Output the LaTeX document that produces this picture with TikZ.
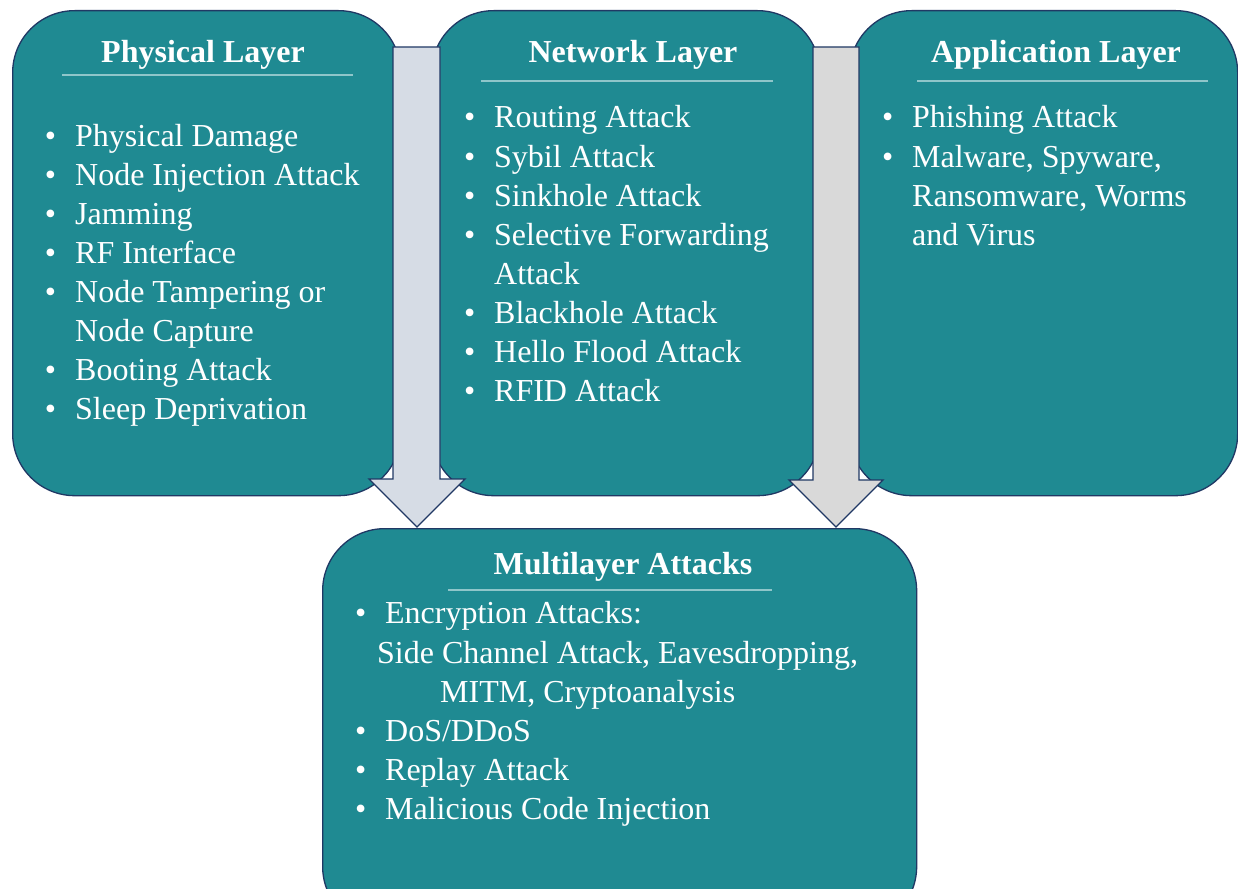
\documentclass[tikz,border=0pt]{standalone}
\usepackage{fontspec}
\setmainfont{Liberation Serif}
\definecolor{tealbox}{HTML}{1F8A92}
\definecolor{edge}{HTML}{203864}
\definecolor{rulecol}{HTML}{8FC6CA}
\definecolor{arrowA}{HTML}{D6DCE5}
\definecolor{arrowB}{HTML}{D9D9D9}
\newcommand{\bul}{\llap{\textbullet\hspace{19pt}}}
\begin{document}
\begin{tikzpicture}[x=1pt,y=-1pt]
\tikzset{
  layerbox/.style={draw=edge, line width=1.3pt, fill=tealbox, rounded corners=62pt, inner sep=0pt, anchor=north west},
  ttl/.style={font=\bfseries\fontsize{32}{39}\selectfont, text=white, anchor=base, inner sep=0pt},
  item/.style={font=\fontsize{32}{39}\selectfont, text=white, anchor=base west, inner sep=0pt},
  titlerule/.style={draw=rulecol, line width=1.5pt},
  blockarrow/.style={draw=edge, line width=1.3pt, line join=miter},
}
\useasboundingbox (0,0) rectangle (1238,888);
\clip (0,0) rectangle (1238,888);

% boxes
\node[layerbox, minimum width=388pt, minimum height=485pt] (phys) at (12,10) {};
\node[layerbox, minimum width=388pt, minimum height=485pt] (net) at (431,10) {};
\node[layerbox, minimum width=388pt, minimum height=485pt] (app) at (849,10) {};
\node[layerbox, minimum width=594pt, minimum height=400pt] (multi) at (322,528) {};

% block arrows
\coordinate (t1) at (417,527);
\coordinate (t2) at (836,527);
\draw[blockarrow, fill=arrowA] (393,47) -- (440,47) -- (440,479) -- (465,479) -- (t1) -- (369,479) -- (393,479) -- cycle;
\draw[blockarrow, fill=arrowB] (813,47) -- (859,47) -- (859,480) -- (883,480) -- (t2) -- (789,480) -- (813,480) -- cycle;

% titles
\node[ttl] (pt) at (203,63) {Physical Layer};
\draw[titlerule] (62,75) -- (353,75);
\node[ttl] (nt) at (633,63) {Network Layer};
\draw[titlerule] (481,81) -- (773,81);
\node[ttl] (at) at (1056,63) {Application Layer};
\draw[titlerule] (917,81) -- (1208,81);
\node[ttl] (mt) at (623,574) {Multilayer Attacks};
\draw[titlerule] (448,590) -- (772,590);

% physical items
\node[item] (p1) at (75,146) {\bul Physical Damage};
\node[item] (p2) at (75,185) {\bul Node Injection Attack};
\node[item] (p3) at (75,224) {\bul Jamming};
\node[item] (p4) at (75,263) {\bul RF Interface};
\node[item] (p5) at (75,302) {\bul Node Tampering or};
\node[item] (p5b) at (75,341) {Node Capture};
\node[item] (p6) at (75,380) {\bul Booting Attack};
\node[item] (p7) at (75,419) {\bul Sleep Deprivation};

% network items
\node[item] (n1) at (494,128) {\bul Routing Attack};
\node[item] (n2) at (494,167) {\bul Sybil Attack};
\node[item] (n3) at (494,206) {\bul Sinkhole Attack};
\node[item] (n4) at (494,245) {\bul Selective Forwarding};
\node[item] (n4b) at (494,284) {Attack};
\node[item] (n5) at (494,323) {\bul Blackhole Attack};
\node[item] (n6) at (494,362) {\bul Hello Flood Attack};
\node[item] (n7) at (494,401) {\bul RFID Attack};

% application items
\node[item] (a1) at (912,128) {\bul Phishing Attack};
\node[item] (a2) at (912,167) {\bul Malware, Spyware,};
\node[item] (a2b) at (912,206) {Ransomware, Worms};
\node[item] (a2c) at (912,245) {and Virus};

% multilayer items
\node[item] (m1) at (385,623) {\bul Encryption Attacks:};
\node[item] (m1b) at (377,663) {Side Channel Attack, Eavesdropping,};
\node[item] (m1c) at (440,702) {MITM, Cryptoanalysis};
\node[item] (m2) at (385,741) {\bul DoS/DDoS};
\node[item] (m3) at (385,780) {\bul Replay Attack};
\node[item] (m4) at (385,819) {\bul Malicious Code Injection};
\end{tikzpicture}
\end{document}
